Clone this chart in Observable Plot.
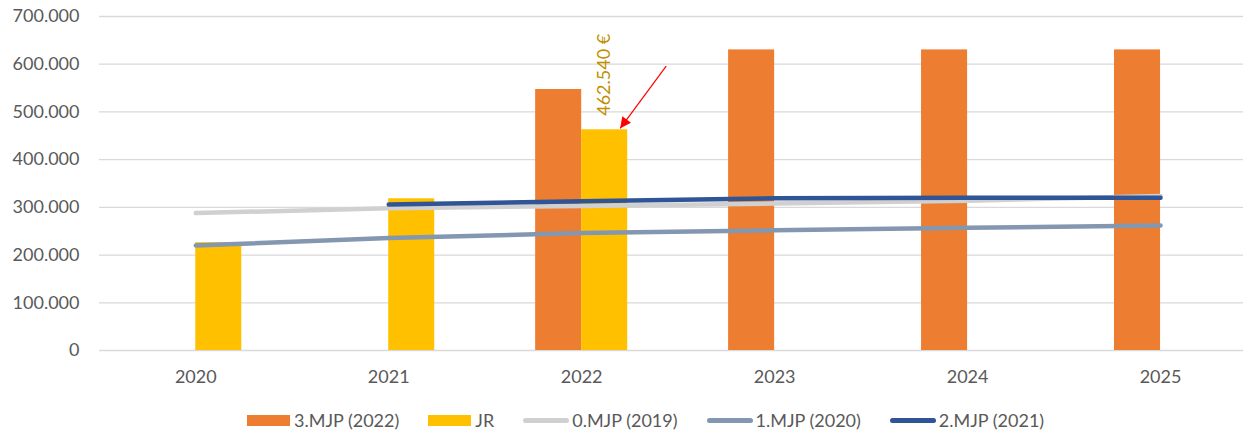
<!DOCTYPE html>
<html>
<head>
<meta charset="utf-8">
<script src="https://cdn.jsdelivr.net/npm/d3@7"></script>
<script src="https://cdn.jsdelivr.net/npm/@observablehq/plot@0.6"></script>
<style>
  html, body { margin: 0; padding: 0; background: #fff; }
  #chart svg { display: block; }
  .legend { display: flex; align-items: center; height: 30px; margin-top: 5px; padding-left: 247px;
            font-family: Lato, "Open Sans", sans-serif; font-size: 18px; color: #595959; }
  .legend .item { display: flex; align-items: center; margin-right: 29px; }
  .legend .sw { width: 43px; height: 11px; margin-right: 4px; }
  .legend .ln { width: 46px; height: 5px; border-radius: 3px; margin-right: 3px; }
</style>
</head>
<body>
<div id="chart"></div>
<script>
// ---- data ----
const years = ["2020", "2021", "2022", "2023", "2024", "2025"];
const mjp3 = [null, null, 547000, 630000, 630000, 630000]; // 3.MJP (2022) bars
const jr = [226000, 318000, 462540, null, null, null];      // JR bars
const mjp0 = [288000, 298000, 303000, 308000, 314000, 324000]; // 0.MJP (2019)
const mjp1 = [220000, 236000, 246000, 252000, 257000, 262000]; // 1.MJP (2020)
const mjp2 = [null, 306000, 313000, 319000, 320000, 320000];   // 2.MJP (2021)
const yTicks = [0, 100000, 200000, 300000, 400000, 500000, 600000, 700000];
const seriesNames = ["3.MJP (2022)", "JR", "0.MJP (2019)", "1.MJP (2020)", "2.MJP (2021)"];
const seriesColors = ["#ED7D31", "#FFC000", "#D0D0D0", "#8497B0", "#2F5597"];
const annoYear = "2022";
const annoValue = 462540;
const annoLabel = "462.540 €";
const arrowTailValue = 595000;

// ---- build tables ----
const toRows = (vals) => years.map((year, i) => ({year, value: vals[i]})).filter(d => d.value != null);
const barsOrange = toRows(mjp3);
const barsYellow = toRows(jr);
const line0 = toRows(mjp0);
const line1 = toRows(mjp1);
const line2 = toRows(mjp2);

const fmt = (v) => v === 0 ? "0" : d3.format(",")(v).replace(/,/g, ".");
const W = 1243, H = 400;
const font = "Lato, 'Open Sans', sans-serif";

const chart = Plot.plot({
  width: W,
  height: H,
  marginTop: 16,
  marginBottom: 50,
  marginLeft: 99,
  marginRight: 0,
  style: {fontFamily: font, fontSize: "18px", color: "#595959", background: "#fff"},
  x: {domain: years, type: "band", range: [98.8, 1256.5], paddingInner: 0.523, paddingOuter: 0.2615, round: false, label: null},
  y: {domain: [0, 700000], label: null},
  marks: [
    Plot.ruleY(yTicks, {stroke: "#D9D9D9", strokeWidth: 1.3}),
    Plot.barY(barsOrange, {x: "year", y: "value", fill: seriesColors[0], insetRight: 46}),
    Plot.barY(barsYellow, {x: "year", y: "value", fill: seriesColors[1], insetLeft: 46}),
    Plot.line(line0, {x: "year", y: "value", stroke: seriesColors[2], strokeWidth: 4.5, strokeLinecap: "round"}),
    Plot.line(line1, {x: "year", y: "value", stroke: seriesColors[3], strokeWidth: 4.5, strokeLinecap: "round"}),
    Plot.line(line2, {x: "year", y: "value", stroke: seriesColors[4], strokeWidth: 4.5, strokeLinecap: "round"}),
    Plot.text([{year: annoYear, value: annoValue, label: annoLabel}], {
      x: "year", y: "value", text: "label", rotate: -90, textAnchor: "start", lineAnchor: "middle",
      dx: 23, dy: -14, fill: "#BF9000", fontSize: 18
    }),
    Plot.axisY({ticks: yTicks, tickFormat: fmt, tickSize: 0, tickPadding: 20, fill: "#595959", fontSize: 18}),
    Plot.axisX({tickSize: 0, tickPadding: 20, fill: "#595959", fontSize: 18})
  ]
});

document.getElementById("chart").appendChild(chart);

// ---- red arrow annotation, positioned through the scales ----
const xs = chart.scale("x");
const ys = chart.scale("y");
const bandStart = xs.apply(annoYear);
const bw = xs.bandwidth;
const cx = bandStart + bw / 2;
const svg = d3.select(chart);
const defs = svg.append("defs");
defs.append("marker")
  .attr("id", "redhead")
  .attr("viewBox", "0 0 10 10")
  .attr("refX", 10).attr("refY", 5)
  .attr("markerWidth", 13).attr("markerHeight", 11)
  .attr("markerUnits", "userSpaceOnUse")
  .attr("orient", "auto")
  .append("path").attr("d", "M0,0L10,5L0,10Z").attr("fill", "#FF0000");
svg.append("line")
  .attr("x1", cx + 85).attr("y1", ys.apply(arrowTailValue))
  .attr("x2", cx + 39).attr("y2", ys.apply(annoValue) - 1)
  .attr("stroke", "#FF0000").attr("stroke-width", 1.2)
  .attr("marker-end", "url(#redhead)");

// ---- legend ----
const legend = d3.select("body").append("div").attr("class", "legend");
seriesNames.forEach((name, i) => {
  const item = legend.append("div").attr("class", "item");
  item.append("div").attr("class", i < 2 ? "sw" : "ln").style("background", seriesColors[i]);
  item.append("span").text(name);
});
</script>
</body>
</html>
